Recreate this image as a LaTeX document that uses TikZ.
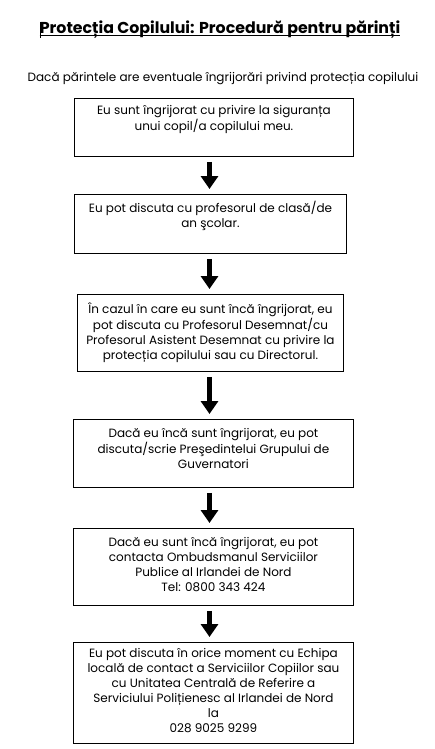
\documentclass[tikz,border=0pt]{standalone}
\usepackage{fontspec}
\setmainfont{Poppins}
\usetikzlibrary{arrows.meta}
\newcommand{\boxlines}[1]{\begin{tabular}[t]{@{}c@{}}#1\end{tabular}}
\tikzset{
  box/.style={draw=black, line width=0.9pt, anchor=north west, inner sep=0pt},
  txt/.style={anchor=base, inner sep=0pt, font=\fontsize{12}{15}\selectfont},
  arr/.style={line width=5pt, -{Triangle[length=13pt,width=17pt]}},
}
\begin{document}
\begin{tikzpicture}[x=1pt,y=-1pt]
\useasboundingbox[fill=white] (0,0) rectangle (435,749);
\coordinate (ax) at (209.5,0);
% title
\node[anchor=base, inner sep=0pt, font=\fontsize{15.8}{18}\bfseries\selectfont] (title) at (220,33.3) {Protecția Copilului: Procedură pentru părinți};
\draw[line width=0.9pt] ([yshift=-2.4pt]title.base west) -- ([yshift=-2.4pt]title.base east);
\draw[line width=0.6pt] (40,22) coordinate (c1) -- (40,38) coordinate (c2);
\node[txt] (sub) at (223,81.7) {Dacă părintele are eventuale îngrijorări privind protecția copilului};
% boxes
\node[box, minimum width=279pt, minimum height=58pt] (b1) at (74,98) {};
\node[box, minimum width=272pt, minimum height=59pt] (b2) at (74,194) {};
\node[box, minimum width=266pt, minimum height=77pt] (b3) at (77,294) {};
\node[box, minimum width=280pt, minimum height=68pt] (b4) at (73,419) {};
\node[box, minimum width=280pt, minimum height=77pt] (b5) at (73,528) {};
\node[box, minimum width=280pt, minimum height=101pt] (b6) at (73,642) {};
% texts
\node[txt] (t1) at ([yshift=-17pt]b1.north) {\boxlines{Eu sunt îngrijorat cu privire la siguranța\\unui copil/a copilului meu.}};
\node[txt] (t2) at ([yshift=-18.7pt]b2.north) {\boxlines{Eu pot discuta cu profesorul de clasă/de\\an şcolar.}};
\node[txt] (t3) at ([yshift=-19.5pt]b3.north) {\boxlines{În cazul în care eu sunt încă îngrijorat, eu\\pot discuta cu Profesorul Desemnat/cu\\Profesorul Asistent Desemnat cu privire la\\protecția copilului sau cu Directorul.}};
\node[txt] (t4) at ([yshift=-18.7pt]b4.north) {\boxlines{Dacă eu încă sunt îngrijorat, eu pot\\discuta/scrie Preşedintelui Grupului de\\Guvernatori}};
\node[txt] (t5) at ([yshift=-18.7pt]b5.north) {\boxlines{Dacă eu sunt încă îngrijorat, eu pot\\contacta Ombudsmanul Serviciilor\\Publice al Irlandei de Nord\\Tel: 0800 343 424}};
\node[txt] (t6) at ([yshift=-15pt]b6.north) {\boxlines{Eu pot discuta în orice moment cu Echipa\\locală de contact a Serviciilor Copiilor sau\\cu Unitatea Centrală de Referire a\\Serviciului Polițienesc al Irlandei de Nord\\la\\028 9025 9299}};
% arrows
\draw[arr] ([yshift=-5pt]b1.south -| ax) -- ([yshift=5pt]b2.north -| ax);
\draw[arr] ([yshift=-5pt]b2.south -| ax) -- ([yshift=5pt]b3.north -| ax);
\draw[arr] ([yshift=-5pt]b3.south -| ax) -- ([yshift=5pt]b4.north -| ax);
\draw[arr] ([yshift=-5pt]b4.south -| ax) -- ([yshift=5pt]b5.north -| ax);
\draw[arr] ([yshift=-5pt]b5.south -| ax) -- ([yshift=5pt]b6.north -| ax);
\end{tikzpicture}
\end{document}
